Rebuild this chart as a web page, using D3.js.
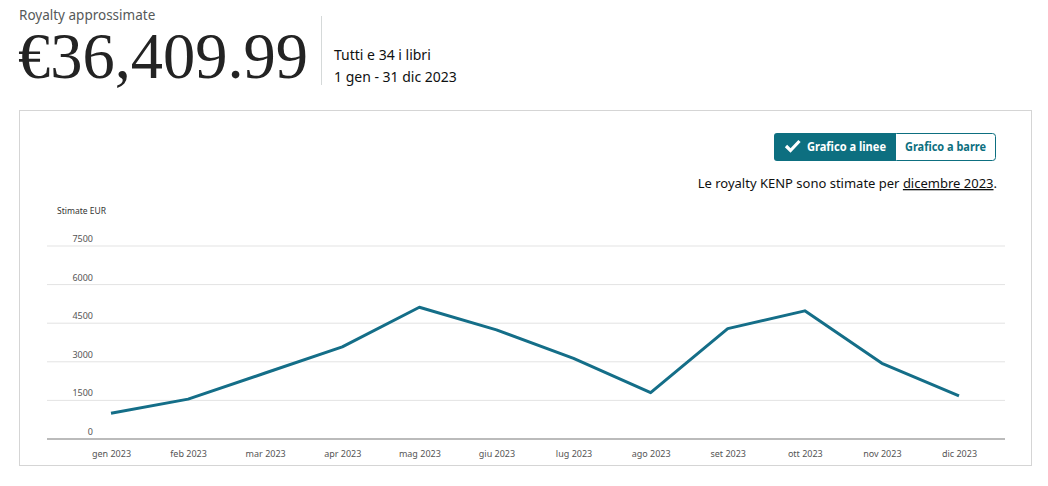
<!DOCTYPE html>
<html>
<head>
<meta charset="utf-8">
<script src="https://cdn.jsdelivr.net/npm/d3@7"></script>
<style>
  body { margin: 0; background: #fff; }
  svg text { font-family: "Noto Sans", "Open Sans", sans-serif; }
</style>
</head>
<body>
<script>
// monthly KENP + sales royalties
var months = ["gen 2023", "feb 2023", "mar 2023", "apr 2023", "mag 2023", "giu 2023",
              "lug 2023", "ago 2023", "set 2023", "ott 2023", "nov 2023", "dic 2023"];
var royalties = [985, 1530, 2545, 3560, 5100, 4220, 3115, 1780, 4270, 4960, 2920, 1660];
var yTicks = [0, 1500, 3000, 4500, 6000, 7500];

var width = 1048, height = 486;

var svg = d3.select("body").append("svg")
  .attr("width", width)
  .attr("height", height);

// header
svg.append("text")
  .attr("x", 19).attr("y", 20)
  .style("font-size", "13.5px")
  .style("fill", "#565959")
  .text("Royalty approssimate");

svg.append("text")
  .attr("x", 18).attr("y", 78)
  .attr("textLength", 290)
  .attr("lengthAdjust", "spacingAndGlyphs")
  .style("font-family", "'Liberation Serif', 'DejaVu Serif', serif")
  .style("font-size", "66px")
  .style("fill", "#232323")
  .text("€36,409.99");

svg.append("line")
  .attr("x1", 321.5).attr("x2", 321.5)
  .attr("y1", 16).attr("y2", 85)
  .style("stroke", "#d5d9d9");

svg.append("text")
  .attr("x", 334).attr("y", 60)
  .style("font-size", "14px")
  .style("fill", "#0f1111")
  .text("Tutti e 34 i libri");

svg.append("text")
  .attr("x", 334).attr("y", 82)
  .style("font-size", "14px")
  .style("fill", "#0f1111")
  .text("1 gen - 31 dic 2023");

// card
svg.append("rect")
  .attr("x", 19.5).attr("y", 110.5)
  .attr("width", 1012).attr("height", 355)
  .style("fill", "none")
  .style("stroke", "#d5d5d5");

// toggle buttons
var teal = "#0d6f80";
svg.append("rect")
  .attr("x", 893.5).attr("y", 133.5)
  .attr("width", 102).attr("height", 27)
  .attr("rx", 3)
  .style("fill", "#fff")
  .style("stroke", teal);
svg.append("path")
  .attr("d", "M777,133 h119 v28 h-119 a3,3 0 0 1 -3,-3 v-22 a3,3 0 0 1 3,-3 z")
  .style("fill", teal);
svg.append("path")
  .attr("d", "M786,146 l4.5,4.5 l9,-9.5")
  .style("fill", "none")
  .style("stroke", "#fff")
  .style("stroke-width", 3.2);
svg.append("text")
  .attr("x", 807).attr("y", 151)
  .attr("textLength", 79)
  .attr("lengthAdjust", "spacingAndGlyphs")
  .style("font-size", "12px")
  .style("font-weight", "bold")
  .style("fill", "#fff")
  .text("Grafico a linee");
svg.append("text")
  .attr("x", 905).attr("y", 151)
  .attr("textLength", 81)
  .attr("lengthAdjust", "spacingAndGlyphs")
  .style("font-size", "12px")
  .style("font-weight", "bold")
  .style("fill", teal)
  .text("Grafico a barre");

var note = svg.append("text")
  .attr("x", 997).attr("y", 188)
  .attr("text-anchor", "end")
  .style("font-size", "13px")
  .style("fill", "#0f1111");
note.append("tspan").text("Le royalty KENP sono stimate per ");
note.append("tspan").style("text-decoration", "underline").text("dicembre 2023");
note.append("tspan").text(".");

// chart
var x = d3.scalePoint()
  .domain(months)
  .range([111, 959]);

var y = d3.scaleLinear()
  .domain([0, 7500])
  .range([438.5, 245.5]);

svg.append("text")
  .attr("x", 57).attr("y", 214)
  .style("font-size", "8.5px")
  .style("fill", "#333")
  .text("Stimate EUR");

var yAxis = d3.axisLeft(y)
  .tickValues(yTicks)
  .tickSize(-(1005 - 47))
  .tickFormat(d => d);

var gy = svg.append("g")
  .attr("transform", "translate(47,0)")
  .call(yAxis);
gy.select(".domain").remove();
gy.selectAll(".tick line")
  .style("stroke", d => d == 0 ? "#bbb" : "#e3e3e3")
  .style("stroke-width", d => d == 0 ? 2 : 1);
gy.selectAll(".tick text")
  .attr("x", 46)
  .attr("y", 0)
  .attr("dy", -4)
  .style("text-anchor", "end")
  .style("font-size", "9px")
  .style("fill", "#555");

var xAxis = d3.axisBottom(x).tickSize(0);
var gx = svg.append("g")
  .attr("transform", "translate(0,439)")
  .call(xAxis);
gx.select(".domain").remove();
gx.selectAll(".tick text")
  .attr("y", 12)
  .style("font-size", "9px")
  .style("fill", "#555");

var line = d3.line()
  .x((d, i) => x(months[i]))
  .y(d => y(d));

svg.append("path")
  .datum(royalties)
  .attr("d", line)
  .style("fill", "none")
  .style("stroke", "#146e88")
  .style("stroke-width", 3)
  .style("stroke-linejoin", "round");
</script>
</body>
</html>
